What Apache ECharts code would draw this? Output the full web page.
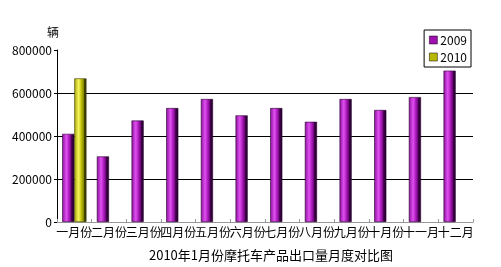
<!DOCTYPE html>
<html><head><meta charset="utf-8">
<script src="https://cdn.jsdelivr.net/npm/echarts@6/dist/echarts.min.js"></script>
<style>html,body{margin:0;padding:0;background:#fff}#c{width:501px;height:267px}</style>
</head><body><div id="c"></div>
<script>
var categories = ['一月份','二月份','三月份','四月份','五月份','六月份','七月份','八月份','九月份','十月份','十一月','十二月'];
var values2009 = [410000, 305000, 472000, 530000, 572000, 496000, 530000, 466000, 572000, 521000, 581000, 704000];
var values2010 = [668000, null, null, null, null, null, null, null, null, null, null, null];
var yTicks = [0, 200000, 400000, 600000, 800000];

var FONT = '"Noto Sans CJK SC", "DejaVu Sans", sans-serif';
function grad(stops){return {type:'linear',x:0,y:0,x2:1,y2:0,colorStops:stops};}
var purple = grad([
  {offset:0,color:'#8a109a'},{offset:0.35,color:'#e050f0'},{offset:0.55,color:'#b020c0'},
  {offset:0.76,color:'#70007e'},{offset:0.77,color:'#3a0044'},{offset:1,color:'#2a0030'}]);
var olive = grad([
  {offset:0,color:'#a8a800'},{offset:0.35,color:'#f4f460'},{offset:0.55,color:'#c8c810'},
  {offset:0.76,color:'#8a8a00'},{offset:0.77,color:'#484800'},{offset:1,color:'#383800'}]);

var chart = echarts.init(document.getElementById('c'));
chart.setOption({
  animation:false,
  textStyle:{fontFamily:FONT,color:'#000'},
  title:{text:'2010年1月份摩托车产品出口量月度对比图',left:266,top:244,textAlign:'center',
    textStyle:{fontSize:13,fontWeight:'normal',color:'#000',fontFamily:FONT}},
  legend:{orient:'vertical',right:30,top:30,itemWidth:8,itemHeight:8,itemGap:5,padding:[4,4,4,5],
    borderColor:'#000',borderWidth:1,icon:'rect',
    textStyle:{fontSize:12,color:'#000',fontFamily:FONT,padding:[0,0,0,-2]},
    data:[{name:'2009',itemStyle:{color:'#a010b0',borderColor:'#000',borderWidth:0.5}},
          {name:'2010',itemStyle:{color:'#b8b800',borderColor:'#000',borderWidth:0.5}}]},
  grid:{left:57,right:28,top:50,bottom:45},
  xAxis:{type:'category',data:categories,
    axisLine:{lineStyle:{color:'#999',width:1}},
    axisTick:{show:true,inside:true,length:3,lineStyle:{color:'#999'}},
    axisLabel:{interval:0,fontSize:12,color:'#000',margin:4,fontFamily:FONT}},
  yAxis:{type:'value',min:0,max:800000,interval:200000,name:'辆',nameGap:12,
    nameTextStyle:{fontSize:12,color:'#000',align:'right',padding:[0,-2,0,0]},
    axisLine:{show:true,lineStyle:{color:'#000'}},
    axisTick:{show:true,length:3,lineStyle:{color:'#000'}},
    axisLabel:{fontSize:12,color:'#000',margin:5,formatter:function(v){return yTicks.indexOf(v)>=0?String(v):'';}},
    splitLine:{show:true,lineStyle:{color:['rgba(0,0,0,0)','#000','#000','#000','rgba(0,0,0,0)'],width:1}}},
  series:[
    {name:'2009',type:'bar',data:values2009,barGap:'0%',barCategoryGap:'30%',
     itemStyle:{color:purple,borderColor:'#2a0030',borderWidth:0.6}},
    {name:'2010',type:'bar',data:values2010,
     itemStyle:{color:olive,borderColor:'#383800',borderWidth:0.6}}
  ]
});
</script></body></html>
